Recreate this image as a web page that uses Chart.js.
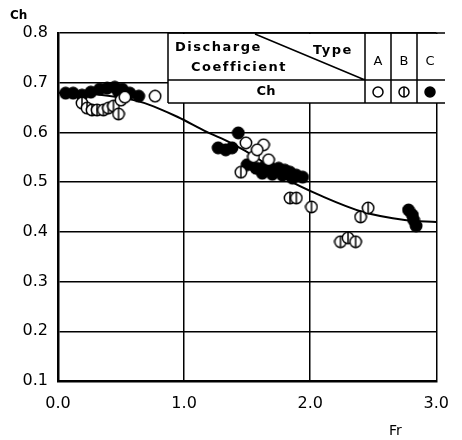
<!DOCTYPE html>
<html>
<head>
<meta charset="utf-8">
<script src="https://cdn.jsdelivr.net/npm/chart.js@4.4.1/dist/chart.umd.min.js"></script>
<style>
html,body{margin:0;padding:0;background:#fff;}
#wrap{position:relative;width:462px;height:440px;}
</style>
</head>
<body>
<div id="wrap"><canvas id="chart" width="462" height="440"></canvas></div>
<script>

/* DATA */

const xTicks=[0,1,2,3];
const yTicks=[0.1,0.2,0.3,0.4,0.5,0.6,0.7,0.8];

// type A, open circles
const frA=[0.50,0.53,0.77,1.49,1.63,1.55,1.67,1.58];
const chA=[0.665,0.671,0.673,0.579,0.575,0.551,0.545,0.565];

// type B, half circles
const frB=[0.19,0.23,0.27,0.31,0.36,0.40,0.44,0.48,1.45,1.84,1.89,2.01,2.40,2.46,2.24,2.30,2.36];
const chB=[0.659,0.649,0.645,0.645,0.645,0.649,0.653,0.637,0.520,0.468,0.468,0.450,0.430,0.448,0.380,0.388,0.380];

// type C, filled circles
const frC=[0.06,0.12,0.19,0.26,0.33,0.39,0.45,0.48,0.51,0.57,0.64,1.43,1.27,1.33,1.38,1.50,1.57,1.63,1.69,1.75,1.80,1.84,1.89,1.94,1.62,1.70,1.78,1.86,2.78,2.81,2.82,2.84];
const chC=[0.679,0.679,0.675,0.681,0.687,0.689,0.691,0.681,0.687,0.679,0.673,0.599,0.569,0.565,0.569,0.535,0.528,0.530,0.528,0.528,0.524,0.520,0.514,0.510,0.518,0.516,0.514,0.508,0.444,0.434,0.424,0.412];

// fitted curve
const frFit=[0,0.3,0.5,0.66,0.8,0.95,1.18,1.37,1.6,1.8,2.11,2.42,2.75,3.0];
const chFit=[0.68,0.677,0.67,0.661,0.648,0.631,0.601,0.579,0.545,0.508,0.47,0.44,0.424,0.42];

const pts=(xs,ys)=>xs.map((x,i)=>({x:x,y:ys[i]}));

/* MARKERS */

function drawMark(ctx,cx,cy,r,type){
ctx.save();
ctx.lineWidth=1.5;
ctx.strokeStyle="#000";
ctx.beginPath();
ctx.arc(cx,cy,r,0,Math.PI*2);
ctx.fillStyle=type=="C"?"#000":"#fff";
ctx.fill();
ctx.stroke();
if(type=="B"){
ctx.beginPath();
ctx.moveTo(cx,cy-r);
ctx.lineTo(cx,cy+r);
ctx.stroke();
}
ctx.restore();
}

function markImg(type){
const c=document.createElement("canvas");
c.width=14;c.height=14;
drawMark(c.getContext("2d"),7,7,5.7,type);
return c;
}

const imgA=markImg("A");
const imgB=markImg("B");
const imgC=markImg("C");

/* TABLE + AXIS TITLES */

const extras={
id:"extras",
afterDatasetsDraw(chart){
const ctx=chart.ctx;
ctx.save();

// table box
ctx.fillStyle="#fff";
ctx.fillRect(168,34,276,69);
ctx.strokeStyle="#000";
ctx.lineWidth=1.5;
ctx.beginPath();
ctx.moveTo(168,33);ctx.lineTo(445,33);
ctx.moveTo(168,80);ctx.lineTo(445,80);
ctx.moveTo(168,103);ctx.lineTo(445,103);
ctx.moveTo(168,33);ctx.lineTo(168,103);
ctx.moveTo(365,33);ctx.lineTo(365,103);
ctx.moveTo(391,33);ctx.lineTo(391,103);
ctx.moveTo(417,33);ctx.lineTo(417,103);
ctx.moveTo(255,34);ctx.lineTo(365,80);
ctx.stroke();

ctx.fillStyle="#000";
ctx.textBaseline="middle";
ctx.font="bold 13px 'DejaVu Sans'";
ctx.letterSpacing="1.5px";
ctx.textAlign="left";
ctx.fillText("Discharge",175,48);
ctx.fillText("Coefficient",191,68);
ctx.fillText("Type",313,51);
ctx.textAlign="center";
ctx.letterSpacing="0px";
ctx.font="13px 'DejaVu Sans'";
ctx.fillText("A",378,62);
ctx.fillText("B",404,62);
ctx.fillText("C",430,62);
ctx.font="bold 13px 'DejaVu Sans'";
ctx.fillText("Ch",266,92);

drawMark(ctx,378,92,5,"A");
drawMark(ctx,404,92,5,"B");
drawMark(ctx,430,92,5,"C");

// axis titles
ctx.font="bold 12px 'DejaVu Sans'";
ctx.textAlign="left";
ctx.fillText("Ch",10,16);
ctx.font="14px 'DejaVu Sans'";
ctx.fillText("Fr",389,431);

ctx.restore();
}
};

/* CHART */

new Chart(document.getElementById("chart"),{
type:"scatter",
data:{
datasets:[
{
label:"fit",
type:"line",
data:pts(frFit,chFit),
borderColor:"#000",
borderWidth:2,
pointRadius:0,
cubicInterpolationMode:"monotone",
fill:false,
order:10
},
{label:"C",data:pts(frC,chC),pointStyle:imgC,order:3},
{label:"B",data:pts(frB,chB),pointStyle:imgB,order:2},
{label:"A",data:pts(frA,chA),pointStyle:imgA,order:1}
]
},
options:{
responsive:false,
animation:false,
devicePixelRatio:1,
layout:{padding:{top:33,right:18,left:0,bottom:0}},
plugins:{legend:{display:false},tooltip:{enabled:false}},
scales:{
x:{
type:"linear",
min:0,max:3,
afterBuildTicks(s){s.ticks=xTicks.map(v=>({value:v}));},
afterFit(s){s.height=59;},
ticks:{color:"#000",padding:13,font:{family:"DejaVu Sans",size:16},callback:v=>v.toFixed(1)},
grid:{color:"#000",lineWidth:1.5,drawTicks:false},
border:{color:"#000",width:2.5}
},
y:{
type:"linear",
min:0.1,max:0.8,
afterBuildTicks(s){s.ticks=yTicks.map(v=>({value:v}));},
afterFit(s){s.width=58;},
ticks:{color:"#000",padding:10,font:{family:"DejaVu Sans",size:16},callback:v=>v.toFixed(1)},
grid:{color:"#000",lineWidth:1.5,drawTicks:false},
border:{color:"#000",width:2.5}
}
}
},
plugins:[extras]
});

</script>
</body>
</html>
